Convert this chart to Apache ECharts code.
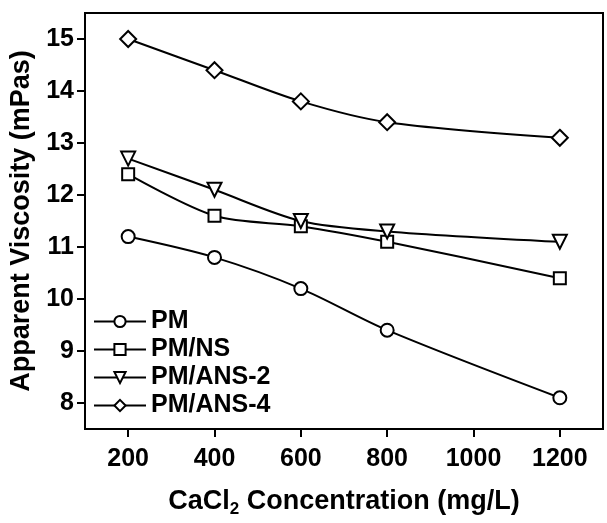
<!DOCTYPE html>
<html>
<head>
<meta charset="utf-8">
<script src="https://cdn.jsdelivr.net/npm/echarts@6/dist/echarts.min.js"></script>
<style>
  html, body { margin: 0; padding: 0; background: #fff; }
  #chart { width: 607px; height: 523px; }
</style>
</head>
<body>
<div id="chart"></div>
<script>
// CaCl2 concentration (mg/L)
const concentration = [200, 400, 600, 800, 1200]
const xTicks = [200, 400, 600, 800, 1000, 1200]
const yTicks = [8, 9, 10, 11, 12, 13, 14, 15]

const seriesNames = ['PM', 'PM/NS', 'PM/ANS-2', 'PM/ANS-4']
const pm = [11.2, 10.8, 10.2, 9.4, 8.1]
const pmNs = [12.4, 11.6, 11.4, 11.1, 10.4]
const pmAns2 = [12.7, 12.1, 11.5, 11.3, 11.1]
const pmAns4 = [15.0, 14.4, 13.8, 13.4, 13.1]

const font = 'Liberation Sans, Arial, sans-serif'
const pair = (vals) => concentration.map((c, i) => [c, vals[i]])

const makeSeries = (name, vals, symbol, size) => ({
  name: name,
  type: 'line',
  data: pair(vals),
  smooth: 0.3,
  symbol: symbol,
  symbolSize: size,
  lineStyle: { color: '#000', width: 2 },
  itemStyle: { color: '#fff', borderColor: '#000', borderWidth: 2 },
  z: 3
})

const chart = echarts.init(document.getElementById('chart'))
const option = {
  animation: false,
  grid: {
    left: 85, top: 13, right: 4, bottom: 90,
    show: true, borderColor: '#000', borderWidth: 2
  },
  legend: {
    orient: 'vertical',
    left: 88,
    top: 304,
    itemWidth: 52,
    itemHeight: 14,
    itemGap: 3,
    data: seriesNames,
    textStyle: { fontFamily: font, fontWeight: 'bold', fontSize: 25, color: '#000' }
  },
  xAxis: {
    type: 'value',
    min: 100,
    max: 1300,
    name: '{n|CaCl}{s|2}{n| Concentration (mg/L)}',
    nameLocation: 'middle',
    nameGap: 56,
    nameTextStyle: {
      rich: {
        n: { fontFamily: font, fontWeight: 'bold', fontSize: 27, color: '#000' },
        s: { fontFamily: font, fontWeight: 'bold', fontSize: 17, color: '#000', verticalAlign: 'bottom', padding: [16, 0, 0, 0] }
      }
    },
    axisLine: { lineStyle: { color: '#000', width: 2 } },
    axisTick: { length: 8, lineStyle: { color: '#000', width: 2 }, customValues: xTicks },
    axisLabel: {
      customValues: xTicks, formatter: (v) => String(v),
      fontFamily: font, fontWeight: 'bold', fontSize: 25, color: '#000', margin: 18
    },
    splitLine: { show: false }
  },
  yAxis: {
    type: 'value',
    min: 7.5,
    max: 15.5,
    name: 'Apparent Viscosity (mPas)',
    nameLocation: 'middle',
    nameGap: 50,
    nameTextStyle: { fontFamily: font, fontWeight: 'bold', fontSize: 27, color: '#000' },
    axisLine: { lineStyle: { color: '#000', width: 2 } },
    axisTick: { length: 8, lineStyle: { color: '#000', width: 2 }, customValues: yTicks },
    axisLabel: {
      customValues: yTicks, formatter: (v) => String(v),
      fontFamily: font, fontWeight: 'bold', fontSize: 25, color: '#000', margin: 11
    },
    splitLine: { show: false }
  },
  series: [
    makeSeries('PM', pm, 'circle', 13),
    makeSeries('PM/NS', pmNs, 'rect', 12),
    makeSeries('PM/ANS-2', pmAns2, 'path://M0,0L2,0L1,1.7Z', 14),
    makeSeries('PM/ANS-4', pmAns4, 'path://M0,-1L1,0L0,1L-1,0Z', 16)
  ]
}
chart.setOption(option)
</script>
</body>
</html>
